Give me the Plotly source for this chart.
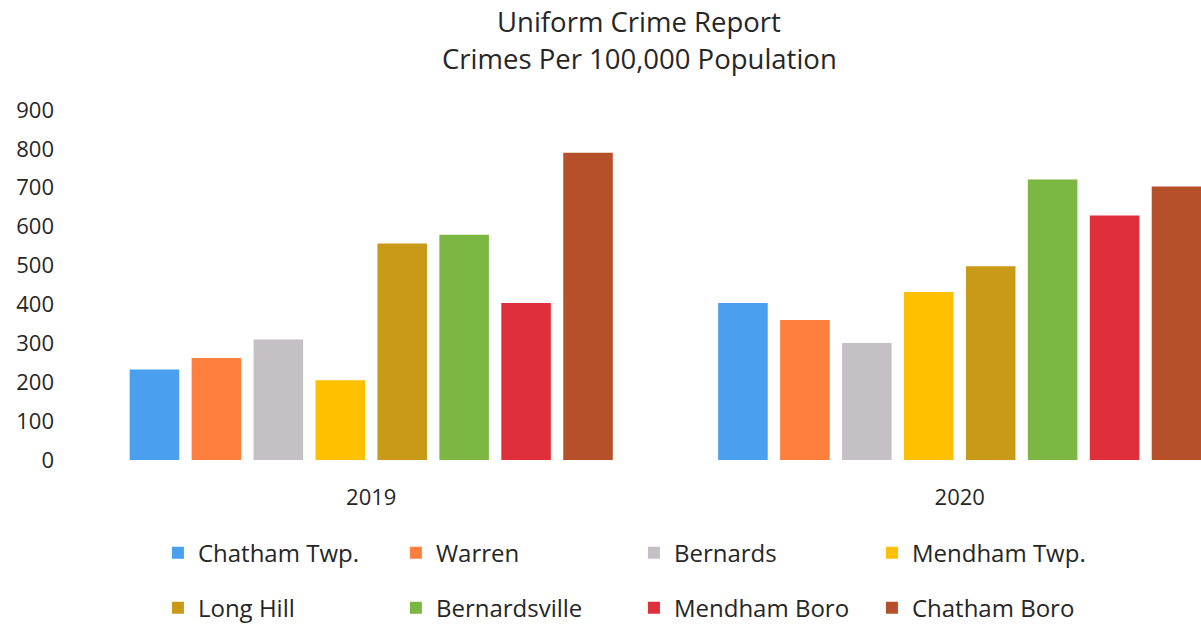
import plotly.graph_objects as go

years = ["2019", "2020"]
towns = ["Chatham Twp.", "Warren", "Bernards", "Mendham Twp.",
         "Long Hill", "Bernardsville", "Mendham Boro", "Chatham Boro"]
crimes_2019 = [233, 262, 310, 205, 557, 579, 404, 790]
crimes_2020 = [404, 360, 301, 432, 498, 721, 629, 703]
colors = ["#4A9FEF", "#FF7F3F", "#C5C0C6", "#FFC000",
          "#C99A18", "#7DB743", "#DE2F3A", "#B5502A"]
title_lines = ["Uniform Crime Report", "Crimes Per 100,000 Population"]

FONT = "Open Sans"
TXT = "#262626"

fig = go.Figure()
for i, town in enumerate(towns):
    fig.add_trace(go.Bar(
        x=years,
        y=[crimes_2019[i], crimes_2020[i]],
        name=town,
        marker=dict(color=colors[i], line=dict(width=0)),
        legend="legend" if i < 4 else "legend2",
    ))

legend_common = dict(
    orientation="h",
    xanchor="left",
    yanchor="middle",
    yref="container",
    font=dict(family=FONT, size=24, color=TXT),
    entrywidth=193,
    entrywidthmode="pixels",
    bgcolor="rgba(0,0,0,0)",
    itemclick=False,
    itemdoubleclick=False,
)

# two-line heading placed above the plot area
for text, ypos in zip(title_lines, [1.254, 1.146]):
    fig.add_annotation(
        text=text, xref="paper", yref="paper",
        x=0.5, y=ypos, xanchor="center", yanchor="middle",
        showarrow=False,
        font=dict(family=FONT, size=27.5, color=TXT),
    )

fig.update_layout(
    width=1201,
    height=625,
    margin=dict(l=77, r=0, t=110, b=165, autoexpand=False),
    paper_bgcolor="white",
    plot_bgcolor="white",
    barmode="group",
    bargap=0.158,
    bargroupgap=0.2,
    xaxis=dict(
        type="category",
        range=[-0.5, 1.41],
        showgrid=False,
        showline=False,
        zeroline=False,
        ticks="",
        ticklabelstandoff=22,
        tickfont=dict(family=FONT, size=22, color=TXT),
    ),
    yaxis=dict(
        range=[0, 900],
        dtick=100,
        showgrid=False,
        zeroline=False,
        showline=False,
        ticks="",
        ticklabelstandoff=22,
        tickfont=dict(family=FONT, size=22, color=TXT),
    ),
    legend=dict(x=0.072, y=0.115, **legend_common),
    legend2=dict(x=0.072, y=0.027, **legend_common),
)

fig.write_html("out.html")
